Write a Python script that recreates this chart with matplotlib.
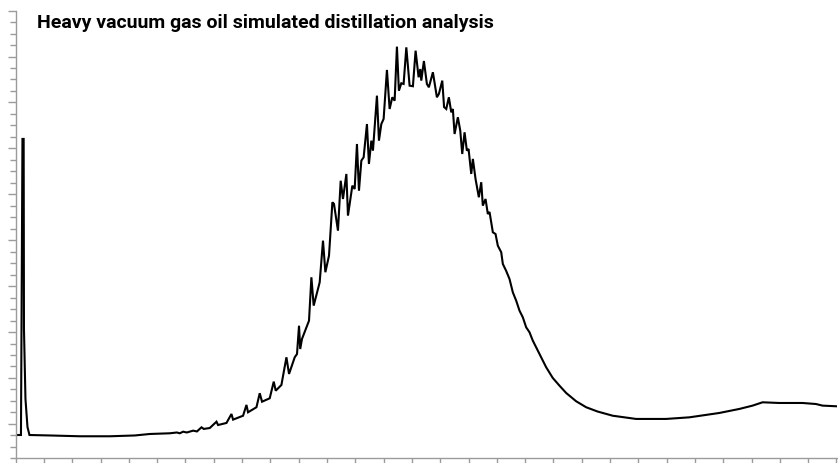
import numpy as np
import matplotlib.pyplot as plt
from matplotlib.ticker import MultipleLocator

# retention time (min) and detector signal
time = [0.0, 0.187, 0.240, 0.282, 0.293, 0.346, 0.417, 0.487, 1.211, 2.270,
        3.329, 4.211, 4.741, 5.447, 5.694, 5.800, 5.916, 6.047, 6.269, 6.404,
        6.565, 6.647, 6.858, 7.095, 7.151, 7.448, 7.624, 7.681, 8.034, 8.154,
        8.210, 8.507, 8.623, 8.705, 8.976, 9.118, 9.188, 9.389, 9.566, 9.658,
        9.859, 9.940, 10.011, 10.053, 10.116, 10.364, 10.448, 10.529, 10.741, 10.858,
        10.942, 11.070, 11.190, 11.246, 11.387, 11.483, 11.564, 11.684, 11.740, 11.895,
        11.977, 12.058, 12.129, 12.213, 12.294, 12.411, 12.481, 12.566, 12.623, 12.764,
        12.835, 12.919, 13.000, 13.117, 13.212, 13.307, 13.389, 13.470, 13.540, 13.625,
        13.706, 13.802, 13.918, 14.035, 14.130, 14.236, 14.296, 14.331, 14.423, 14.529,
        14.599, 14.741, 14.882, 14.952, 15.072, 15.136, 15.213, 15.305, 15.390, 15.446,
        15.507, 15.623, 15.708, 15.778, 15.860, 15.941, 16.001, 16.096, 16.153, 16.248,
        16.364, 16.449, 16.505, 16.601, 16.682, 16.742, 16.859, 16.954, 17.035, 17.155,
        17.212, 17.331, 17.448, 17.565, 17.684, 17.801, 17.917, 18.037, 18.154, 18.271,
        18.507, 18.743, 18.976, 19.213, 19.450, 19.802, 20.155, 20.554, 21.094, 21.920,
        22.979, 23.802, 24.861, 25.567, 26.036, 26.389, 26.978, 27.801, 28.274, 28.507,
        29.026]
signal = [-0.97, -0.97, 24.82, 24.82, 8.27, 2.17, -0.27, -0.97, -1.01, -1.08,
          -1.08, -1.01, -0.88, -0.82, -0.75, -0.82, -0.68, -0.75, -0.59, -0.66,
          -0.30, -0.44, -0.36, 0.19, -0.10, 0.08, 0.86, 0.37, 0.71, 1.65,
          1.01, 1.45, 2.67, 1.93, 2.23, 3.68, 2.89, 3.39, 5.80, 4.35,
          5.80, 6.09, 8.55, 6.52, 7.40, 8.99, 12.77, 10.30, 12.33, 15.96,
          13.21, 14.65, 19.30, 19.16, 16.83, 21.18, 19.59, 21.77, 18.14, 20.75,
          20.46, 24.38, 20.31, 22.93, 23.22, 26.12, 22.64, 24.67, 23.80, 28.59,
          24.67, 26.12, 26.56, 30.83, 27.43, 28.45, 28.15, 32.86, 29.02, 29.67,
          29.61, 32.80, 29.46, 29.41, 32.51, 30.19, 30.91, 29.90, 31.61, 29.61,
          29.32, 30.63, 28.45, 28.74, 29.90, 27.60, 27.43, 28.45, 27.14, 27.43,
          25.25, 26.71, 25.54, 23.51, 25.40, 23.80, 23.95, 21.77, 23.08, 21.33,
          19.74, 21.05, 19.01, 19.59, 18.28, 18.46, 16.69, 16.54, 15.52, 14.95,
          13.93, 13.32, 12.62, 11.46, 10.73, 9.86, 9.29, 8.41, 7.98, 7.25,
          6.09, 4.93, 4.00, 3.33, 2.69, 1.97, 1.45, 1.08, 0.71, 0.43,
          0.43, 0.57, 0.95, 1.30, 1.59, 1.88, 1.82, 1.82, 1.73, 1.59,
          1.53]

title = 'Heavy vacuum gas oil simulated distillation analysis'
axis_grey = '#9b9b9b'

fig = plt.figure(figsize=(8.38, 4.64), dpi=100)
ax = fig.add_axes([0.0187, 0.0101, 0.9805, 0.9649])

ax.plot(time, signal, color='black', lw=1.5, solid_joinstyle='miter')

ax.set_xlim(0, 29.03)
ax.set_ylim(-3, 36)
ax.xaxis.set_major_locator(MultipleLocator(1))
ax.yaxis.set_major_locator(MultipleLocator(4))
ax.yaxis.set_minor_locator(MultipleLocator(1))
ax.tick_params(axis='both', which='both', direction='out', colors=axis_grey,
               labelbottom=False, labelleft=False, width=1.0)
ax.tick_params(axis='y', which='major', length=5.8)
ax.tick_params(axis='y', which='minor', length=4.0)
ax.tick_params(axis='x', which='major', length=6)

for side in ['top', 'right']:
    ax.spines[side].set_visible(False)
for side in ['left', 'bottom']:
    ax.spines[side].set_color(axis_grey)
    ax.spines[side].set_linewidth(1.0)

fig.text(0.0442, 0.939, title, fontsize=14, fontweight='bold',
         family=['Roboto', 'DejaVu Sans'],
         va='baseline', ha='left')

fig.savefig('out.png', dpi=100)
